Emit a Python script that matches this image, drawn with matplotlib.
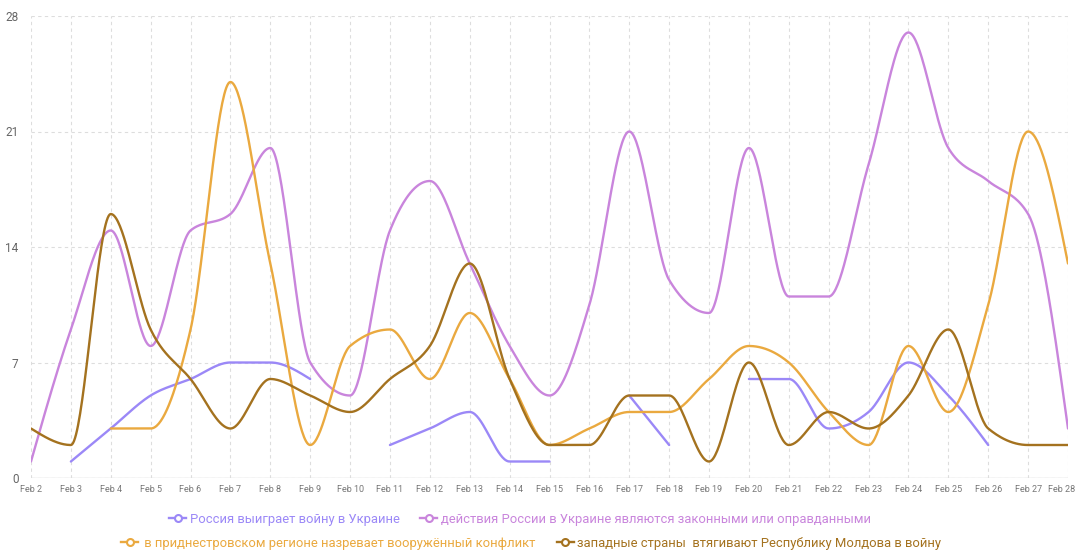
import numpy as np
import matplotlib
matplotlib.use("Agg")
import matplotlib.pyplot as plt
import matplotlib.transforms as mtransforms
from matplotlib.lines import Line2D

plt.rcParams['font.family'] = ['Roboto', 'DejaVu Sans']

days = [f"Feb {d}" for d in range(2, 29)]

# None = no value that day (gap in the line)
russia_wins = [None, 1, 3, 5, 6, 7, 7, 6, None, 2, 3, 4, 1, 1, None, 5, 2,
               None, 6, 6, 3, 4, 7, 5, 2, None, None]
actions_legal = [1, 9, 15, 8, 15, 16, 20, 7, 5, 15, 18, 13, 8, 5, 10.5, 21, 12,
                 10, 20, 11, 11, 19, 27, 20, 18, 16, 3]
transnistria = [None, None, 3, 3, 9, 24, 13, 2, 8, 9, 6, 10, 6, 2, 3, 4, 4,
                6, 8, 7, 4, 2, 8, 4, 10.5, 21, 13]
west_drags = [3, 2, 16, 9, 6, 3, 6, 5, 4, 6, 8, 13, 6, 2, 2, 5, 5,
              1, 7, 2, 4, 3, 5, 9, 3, 2, 2]

series = [
    ("Россия выиграет войну в Украине", russia_wins, "#9b88f7"),
    ("действия России в Украине являются законными или оправданными", actions_legal, "#c985dc"),
    (" в приднестровском регионе назревает вооружённый конфликт", transnistria, "#eaa93f"),
    ("западные страны  втягивают Республику Молдова в войну", west_drags, "#a4721f"),
]


def monotone_segment(xs, ys, n=40):
    # same idea as d3 curveMonotoneX (Steffen)
    xs = np.asarray(xs, float)
    ys = np.asarray(ys, float)
    if len(xs) == 2:
        return xs, ys
    h = np.diff(xs)
    s = np.diff(ys) / h
    t = np.zeros(len(xs))
    for i in range(1, len(xs) - 1):
        p = (s[i - 1] * h[i] + s[i] * h[i - 1]) / (h[i - 1] + h[i])
        t[i] = (np.sign(s[i - 1]) + np.sign(s[i])) * min(abs(s[i - 1]), abs(s[i]), 0.5 * abs(p))
    t[0] = (3 * s[0] - t[1]) / 2
    t[-1] = (3 * s[-1] - t[-2]) / 2
    out_x, out_y = [], []
    for i in range(len(xs) - 1):
        dx = h[i]
        p0 = (xs[i], ys[i])
        p1 = (xs[i] + dx / 3, ys[i] + dx / 3 * t[i])
        p2 = (xs[i + 1] - dx / 3, ys[i + 1] - dx / 3 * t[i + 1])
        p3 = (xs[i + 1], ys[i + 1])
        u = np.linspace(0, 1, n)
        for k in (0, 1):
            b = ((1 - u) ** 3 * p0[k] + 3 * (1 - u) ** 2 * u * p1[k]
                 + 3 * (1 - u) * u ** 2 * p2[k] + u ** 3 * p3[k])
            (out_x if k == 0 else out_y).append(b)
    return np.concatenate(out_x), np.concatenate(out_y)


def segments(values):
    seg = []
    for i, v in enumerate(values):
        if v is None:
            if seg:
                yield seg
            seg = []
        else:
            seg.append((i, v))
    if seg:
        yield seg


fig = plt.figure(figsize=(10.78, 5.5), dpi=100)
ax = fig.add_axes([31 / 1078, 1 - 478 / 550, (1068 - 31) / 1078, (478 - 16) / 550])

for label, values, color in series:
    for seg in segments(values):
        sx, sy = zip(*seg)
        cx, cy = monotone_segment(sx, sy)
        ax.plot(cx, cy, color=color, lw=1.7, solid_capstyle='round', zorder=3)

ax.set_xlim(0, len(days) - 1)
ax.set_ylim(0, 28)
ax.set_xticks(range(len(days)))
ax.set_xticklabels(days, fontsize=6.5, color="#777777")
ax.set_yticks([0, 7, 14, 21, 28])
ax.tick_params(axis='y', labelsize=8.5, colors="#666666", length=0, pad=9)
ax.tick_params(axis='x', length=0, pad=5)
ax.grid(True, color="#dddddd", linestyle=(0, (3, 3)), linewidth=0.8)
ax.axhline(0, color="#d6d6d6", lw=1, zorder=1)
for sp in ax.spines.values():
    sp.set_visible(False)

# keep the last date label inside the figure
last = ax.get_xticklabels()[-1]
last.set_transform(last.get_transform() + mtransforms.ScaledTranslation(-6 / 100, 0, fig.dpi_scale_trans))


def legend_row(items, x, y):
    handles = [Line2D([], [], color=c, lw=1.7, marker='o', markersize=5,
                      markerfacecolor='white', markeredgewidth=1.5) for _, _, c in items]
    leg = fig.legend(handles, [l for l, _, _ in items], loc='center', ncol=2,
                     bbox_to_anchor=(x, y), frameon=False, fontsize=9.4,
                     handlelength=1.3, handletextpad=0.25, columnspacing=1.6,
                     labelcolor='linecolor')
    return leg


legend_row(series[:2], 520 / 1078, 1 - 519 / 550)
legend_row(series[2:], 531 / 1078, 1 - 543 / 550)

fig.savefig("out.png", dpi=100, facecolor="white")
